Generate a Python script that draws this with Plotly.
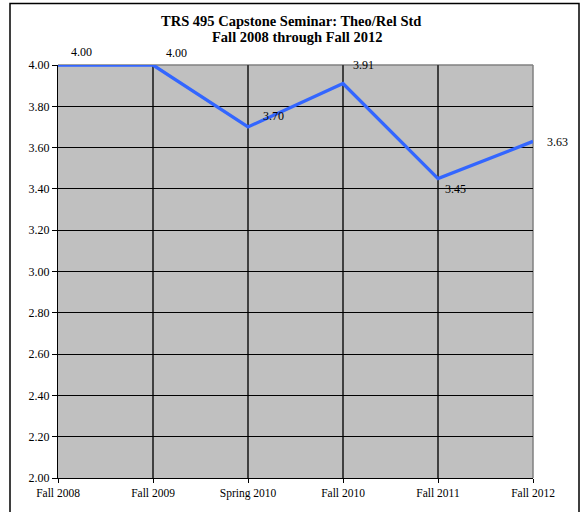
import plotly.graph_objects as go

terms = ["Fall 2008", "Fall 2009", "Spring 2010", "Fall 2010", "Fall 2011", "Fall 2012"]
gpa = [4.00, 4.00, 3.70, 3.91, 3.45, 3.63]
y_ticks = [2.00, 2.20, 2.40, 2.60, 2.80, 3.00, 3.20, 3.40, 3.60, 3.80, 4.00]
title_lines = ["TRS 495 Capstone Seminar: Theo/Rel Std", "Fall 2008 through Fall 2012"]

# label offsets in pixels (x right, y up) - layout only
label_dx = [23, 23, 25, 20, 17, 24]
label_dy = [13, 12, 11, 19, -10, -1]
# title line placements (pixel x centre, pixel y centre)
title_pos = [(291, 21), (297, 37)]

W, H = 581, 512
L, R, T, B = 58, 533, 65, 481
pw, ph = R - L, B - T

FONT = "Liberation Serif, Times New Roman, serif"

fig = go.Figure()
fig.add_trace(go.Scatter(
    x=list(range(len(terms))), y=gpa, mode="lines",
    line=dict(color="#3366FF", width=3.3), hoverinfo="skip",
))

for i, v in enumerate(gpa):
    fig.add_annotation(x=i, y=v, xref="x", yref="y", text=f"{v:.2f}",
                       showarrow=False, xshift=label_dx[i], yshift=label_dy[i],
                       font=dict(family=FONT, size=12, color="black"))

for line, (px, py) in zip(title_lines, title_pos):
    fig.add_annotation(xref="paper", yref="paper", x=(px - L) / pw, y=(B - py) / ph,
                       text="<b>" + line + "</b>", showarrow=False,
                       xanchor="center", yanchor="middle",
                       font=dict(family=FONT, size=14.5, color="black"))

# plot area border (gray) on top and right
fig.add_shape(type="line", xref="paper", yref="paper", x0=0, x1=1, y0=1, y1=1,
              line=dict(color="#808080", width=1.5), layer="below")
fig.add_shape(type="line", xref="paper", yref="paper", x0=1, x1=1, y0=0, y1=1,
              line=dict(color="#808080", width=1.5), layer="below")

# outer chart frame
fig.add_shape(type="rect", xref="paper", yref="paper",
              x0=(10 - L) / pw, x1=(579 - L) / pw, y0=(B - 530) / ph, y1=(B - 3) / ph,
              line=dict(color="black", width=1.5), fillcolor="rgba(0,0,0,0)")

fig.update_layout(
    width=W, height=H,
    margin=dict(l=L, r=W - R, t=T, b=H - B),
    paper_bgcolor="white", plot_bgcolor="#C0C0C0",
    showlegend=False,
    xaxis=dict(range=[0, len(terms) - 1], tickmode="array",
               tickvals=list(range(len(terms))), ticktext=terms,
               showgrid=True, gridcolor="#404040", gridwidth=1.3,
               showline=True, linecolor="black", linewidth=1,
               ticks="outside", ticklen=4, tickcolor="black",
               zeroline=False, fixedrange=True,
               tickfont=dict(family=FONT, size=11.5, color="black")),
    yaxis=dict(range=[2.0, 4.0], tickmode="array", tickvals=y_ticks,
               ticktext=[f"{t:.2f}" for t in y_ticks],
               showgrid=True, gridcolor="black", gridwidth=1,
               showline=True, linecolor="black", linewidth=1,
               ticks="outside", ticklen=5, tickcolor="black",
               zeroline=False, fixedrange=True,
               tickfont=dict(family=FONT, size=12, color="black")),
)

fig.write_html("out.html", config={"staticPlot": True},
               post_script="document.body.style.margin='0';document.body.style.overflow='hidden';")
